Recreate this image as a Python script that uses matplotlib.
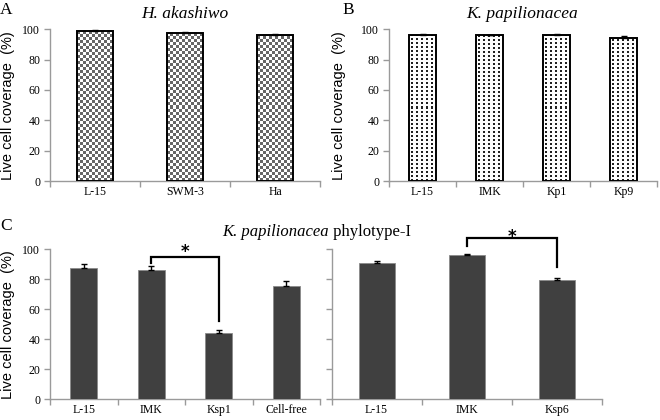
import numpy as np
import matplotlib
matplotlib.use('Agg')
import matplotlib.pyplot as plt
from matplotlib.colors import ListedColormap

# panel A: H. akashiwo
a_cats = ['L-15', 'SWM-3', 'Ha']
a_vals = [98.8, 97.8, 96.5]
a_err = [0.5, 0.6, 0.4]

# panel B: K. papilionacea
b_cats = ['L-15', 'IMK', 'Kp1', 'Kp9']
b_vals = [96.5, 96.0, 96.5, 94.0]
b_err = [0.4, 0.4, 0.4, 1.8]

# panel C: K. papilionacea phylotype-I
c1_cats = ['L-15', 'IMK', 'Ksp1', 'Cell-free']
c1_vals = [87.5, 86.0, 44.5, 75.5]
c1_err = [2.5, 3.0, 2.0, 3.5]

c2_cats = ['L-15', 'IMK', 'Ksp6']
c2_vals = [90.7, 96.2, 79.5]
c2_err = [1.5, 1.0, 1.6]

W, H = 660, 420
SERIF = 'Liberation Serif'
SANS = 'Liberation Sans'
AXGRAY = '#9a9a9a'

fig = plt.figure(figsize=(6.6, 4.2), dpi=100)

def box(l, r, t, b):
    # pixel box -> figure fraction
    return [l / W, 1 - b / H, (r - l) / W, (b - t) / H]

def style(ax, cats, labx, showy=True):
    n = len(cats)
    ax.set_xlim(-0.5, n - 0.5)
    ax.set_ylim(0, 100)
    for s in ['top', 'right']:
        ax.spines[s].set_visible(False)
    for s in ['left', 'bottom']:
        ax.spines[s].set_color(AXGRAY)
        ax.spines[s].set_linewidth(1.0)
    ax.set_xticks(np.arange(n + 1) - 0.5)
    ax.set_xticklabels([])
    ax.set_xticks(np.arange(n), minor=True)
    ax.set_xticklabels(cats, minor=True, fontfamily=SERIF, fontsize=8.5)
    ax.tick_params(axis='x', which='major', length=4, color=AXGRAY, width=1)
    ax.tick_params(axis='x', which='minor', length=0, pad=3.5)
    ax.set_yticks(np.arange(0, 101, 20))
    ax.tick_params(axis='y', length=4, color=AXGRAY, width=1, pad=3)
    if showy:
        ax.set_yticklabels([str(v) for v in range(0, 101, 20)],
                           fontfamily=SERIF, fontsize=8.5)
        ax.set_ylabel('Live cell coverage  (%)', fontfamily=SANS, fontsize=10.5)
        ax.yaxis.set_label_coords(labx, 0.5)
    else:
        ax.set_yticklabels([])

def pattern_bars(ax, vals, err, pat, cell_px, ppx, ppy):
    x = np.arange(len(vals))
    bars = ax.bar(x, vals, width=0.4, facecolor='none', edgecolor='black',
                  linewidth=1.4, zorder=3)
    ax.errorbar(x, vals, yerr=[np.zeros(len(err)), err], fmt='none',
                ecolor='black', elinewidth=1, capsize=2, capthick=1, zorder=4)
    for b in bars:
        x0 = b.get_x()
        w = b.get_width()
        h = b.get_height()
        nx = int(round(w * ppx))
        ny = int(round(h * ppy))
        img = pat(ny, nx)
        im = ax.imshow(img, extent=(x0, x0 + w, 0, h), aspect='auto',
                       interpolation='nearest', origin='lower',
                       cmap=ListedColormap(['white', cell_px]), vmin=0, vmax=1,
                       zorder=2)
        im.set_clip_path(b)

def checker(ny, nx):
    yy, xx = np.mgrid[0:ny, 0:nx]
    return (((yy // 3) + (xx // 3)) % 2).astype(float)

def dots(ny, nx):
    yy, xx = np.mgrid[0:ny, 0:nx]
    return (((yy % 4) < 2) & ((xx % 5) >= 2) & ((xx % 5) < 4)).astype(float)

def solid_bars(ax, vals, err):
    x = np.arange(len(vals))
    ax.bar(x, vals, width=0.4, color='#404040', edgecolor='#8a8a8a',
           linewidth=0.6, zorder=3)
    ax.errorbar(x, vals, yerr=[np.zeros(len(err)), err], fmt='none',
                ecolor='black', elinewidth=1, capsize=2, capthick=1, zorder=4)

# A
axA = fig.add_axes(box(50, 320, 29.3, 181))
pattern_bars(axA, a_vals, a_err, checker, '#666666', 90, 1.517)
style(axA, a_cats, -0.13)

# B
axB = fig.add_axes(box(389, 657, 29.3, 181))
pattern_bars(axB, b_vals, b_err, dots, '#222222', 67, 1.517)
style(axB, b_cats, -0.16)

# C left
axC1 = fig.add_axes(box(50, 320, 249.3, 399.3))
solid_bars(axC1, c1_vals, c1_err)
style(axC1, c1_cats, -0.13)

# C right
axC2 = fig.add_axes(box(331.5, 602, 249.3, 399.3))
solid_bars(axC2, c2_vals, c2_err)
style(axC2, c2_cats, 0, showy=False)

# significance brackets
def bracket(ax, x1, x2, y1, y2, top, sy):
    ax.plot([x1, x1, x2, x2], [y1, top, top, y2], color='black', lw=1.6,
            clip_on=False, zorder=5, solid_joinstyle='miter')
    ax.text((x1 + x2) / 2, sy, '*', ha='center', va='center', fontsize=12,
            fontweight='bold', fontfamily='DejaVu Sans', clip_on=False)

bracket(axC1, 1, 2, 91, 52.5, 94.7, 98)
bracket(axC2, 1, 2, 102, 88, 107.3, 108.5)

# titles and panel letters
def ftxt(x, y, s, **kw):
    return fig.text(x / W, 1 - y / H, s, **kw)

ftxt(185, 14, 'H. akashiwo', ha='center', va='center', fontfamily=SERIF,
     style='italic', fontsize=12.5)
ftxt(522, 14, 'K. papilionacea', ha='center', va='center', fontfamily=SERIF,
     style='italic', fontsize=12.5)
ftxt(329, 232, 'K. papilionacea', ha='right', va='center',
     fontfamily=SERIF, style='italic', fontsize=12)
ftxt(329, 232, ' phylotype-I', ha='left', va='center', fontfamily=SERIF,
     fontsize=12)
ftxt(0, 10, 'A', ha='left', va='center', fontfamily=SERIF, fontsize=12.5)
ftxt(342, 10, 'B', ha='left', va='center', fontfamily=SERIF, fontsize=12.5)
ftxt(0, 226, 'C', ha='left', va='center', fontfamily=SERIF, fontsize=12.5)

plt.savefig('out.png', dpi=100)
